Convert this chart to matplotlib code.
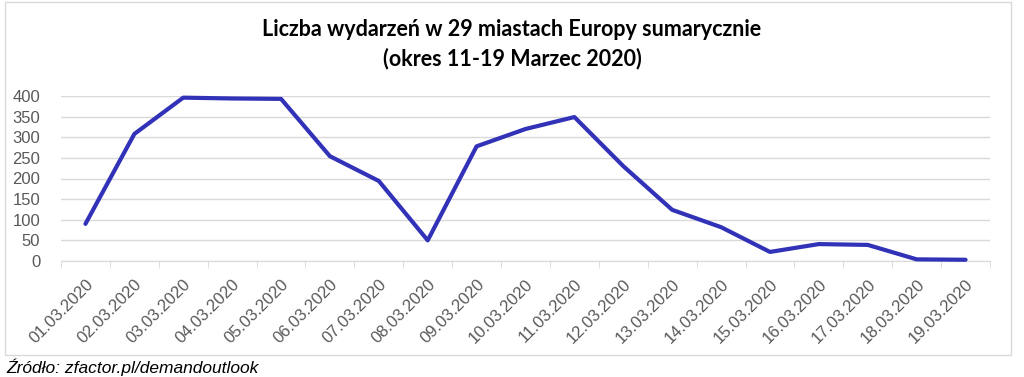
import matplotlib.pyplot as plt
from matplotlib.patches import Rectangle
import numpy as np

dates = ["01.03.2020", "02.03.2020", "03.03.2020", "04.03.2020", "05.03.2020",
         "06.03.2020", "07.03.2020", "08.03.2020", "09.03.2020", "10.03.2020",
         "11.03.2020", "12.03.2020", "13.03.2020", "14.03.2020", "15.03.2020",
         "16.03.2020", "17.03.2020", "18.03.2020", "19.03.2020"]
events = [90, 308, 396, 394, 393, 254, 194, 50, 278, 320, 349, 230, 124, 82, 22,
          41, 39, 4, 3]

W, H = 1024, 377
fig = plt.figure(figsize=(W / 100, H / 100), dpi=100)

# ramka wykresu
fig.patches.append(Rectangle((5 / W, 1 - 355 / H), 1006 / W, 353 / H,
                             transform=fig.transFigure, fill=False,
                             edgecolor="#d9d9d9", linewidth=1))

ax = fig.add_axes([61 / W, 1 - 261 / H, 929 / W, 165 / H])
x = np.arange(len(dates))
ax.plot(x, events, color="#3232b8", linewidth=3, clip_on=False,
        solid_joinstyle="round", solid_capstyle="round", zorder=3)

ax.set_xlim(-0.5, len(dates) - 0.5)
ax.set_ylim(0, 400)
ax.set_yticks(np.arange(0, 401, 50))
ax.yaxis.grid(True, color="#d9d9d9", linewidth=1)
ax.set_axisbelow(True)

ax.set_xticks(x)
ax.set_xticklabels(dates, rotation=45, ha="right", rotation_mode="anchor",
                   fontsize=12, color="#595959", fontfamily="Liberation Sans")
ax.set_xticks(np.arange(-0.5, len(dates), 1), minor=True)
ax.tick_params(axis="x", which="major", length=0, pad=11)
ax.tick_params(axis="x", which="minor", length=5, color="#d9d9d9")
ax.tick_params(axis="y", length=0, labelsize=12, labelcolor="#595959", pad=15)
for lab in ax.get_yticklabels():
    lab.set_fontfamily("Liberation Sans")

for s in ["top", "right", "left"]:
    ax.spines[s].set_visible(False)
ax.spines["bottom"].set_color("#d9d9d9")

fig.text(0.5, 1 - 30 / H, "Liczba wydarzeń w 29 miastach Europy sumarycznie",
         ha="center", va="center", fontsize=15.5, fontweight="bold",
         fontfamily="Lato")
fig.text(0.5, 1 - 59 / H, "(okres 11-19 Marzec 2020)",
         ha="center", va="center", fontsize=15.5, fontweight="bold",
         fontfamily="Lato")

fig.text(6 / W, 1 - 367 / H, "Źródło: zfactor.pl/demandoutlook",
         ha="left", va="center", fontsize=12.5, style="italic",
         fontfamily="Liberation Sans")

fig.savefig("out.png", dpi=100)
